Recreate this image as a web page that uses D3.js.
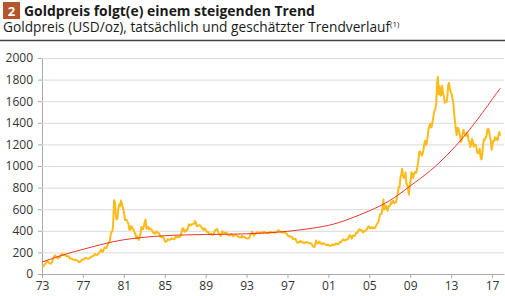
<!DOCTYPE html>
<html>
<head>
<meta charset="utf-8">
<script src="https://cdn.jsdelivr.net/npm/d3@7"></script>
<style>
  body { margin: 0; background: #fff; }
  svg { display: block; font-family: 'Open Sans', sans-serif; }
</style>
</head>
<body>
<svg></svg>
<script>
// monthly gold price (USD/oz), Jan of first year onward
const gold1970s = [
  65, 74, 84, 90, 102, 120, 120, 107, 103, 100, 95, 107,
  129, 150, 168, 172, 163, 154, 143, 155, 152, 159, 182, 184,
  176, 180, 178, 170, 167, 164, 165, 163, 144, 143, 142, 139,
  132, 131, 133, 128, 127, 126, 118, 109, 114, 116, 131, 134,
  132, 136, 148, 149, 147, 141, 143, 144, 149, 158, 162, 161,
  173, 178, 184, 175, 176, 184, 189, 206, 212, 227, 206, 208,
  227, 246, 242, 239, 258, 279, 295, 301, 355, 392, 393, 455
];
const gold1980s = [
  683, 665, 554, 505, 514, 601, 644, 627, 680, 661, 624, 595,
  558, 500, 500, 496, 480, 461, 409, 410, 444, 438, 413, 410,
  384, 374, 330, 350, 334, 315, 339, 365, 436, 422, 414, 444,
  481, 505, 420, 433, 438, 413, 423, 416, 412, 394, 382, 388,
  371, 386, 394, 381, 378, 378, 348, 348, 341, 340, 341, 320,
  298, 299, 304, 324, 317, 316, 317, 330, 324, 326, 325, 322,
  345, 339, 346, 340, 343, 343, 349, 376, 418, 423, 398, 391,
  408, 401, 409, 438, 460, 450, 451, 461, 460, 465, 468, 490,
  477, 442, 444, 452, 451, 452, 438, 431, 414, 407, 421, 419,
  404, 388, 390, 384, 371, 368, 375, 365, 362, 367, 394, 409
];
const gold1990s = [
  410, 417, 393, 374, 369, 352, 363, 395, 389, 381, 381, 378,
  384, 364, 363, 358, 357, 367, 368, 356, 349, 359, 360, 361,
  355, 354, 344, 339, 337, 341, 353, 340, 345, 344, 335, 335,
  329, 329, 330, 342, 367, 372, 392, 380, 355, 364, 374, 383,
  387, 382, 384, 377, 381, 386, 386, 380, 392, 390, 384, 379,
  379, 377, 382, 391, 385, 388, 386, 384, 383, 383, 386, 387,
  400, 405, 396, 393, 392, 385, 384, 388, 383, 381, 378, 369,
  355, 347, 352, 345, 344, 341, 324, 324, 323, 325, 306, 289,
  289, 298, 296, 308, 299, 292, 293, 284, 289, 296, 294, 292,
  287, 287, 286, 283, 276, 261, 253, 250, 265, 311, 293, 283
];
const gold2000s = [
  285, 301, 286, 280, 275, 286, 282, 275, 274, 270, 266, 272,
  266, 262, 263, 261, 272, 270, 268, 272, 283, 283, 276, 276,
  282, 296, 294, 303, 315, 321, 313, 310, 319, 317, 319, 333,
  357, 359, 341, 328, 356, 356, 351, 360, 379, 379, 390, 408,
  414, 405, 407, 403, 384, 392, 398, 401, 405, 421, 439, 442,
  424, 423, 434, 429, 422, 431, 425, 438, 456, 470, 477, 510,
  550, 555, 557, 611, 690, 596, 634, 633, 598, 586, 628, 630,
  631, 665, 655, 679, 667, 656, 665, 665, 713, 755, 806, 803,
  890, 922, 975, 910, 889, 890, 940, 839, 830, 790, 735, 816,
  859, 943, 924, 890, 929, 946, 934, 949, 997, 1043, 1127, 1135
];
const gold2010s = [
  1118, 1095, 1113, 1149, 1205, 1233, 1193, 1216, 1271, 1342, 1370, 1391,
  1356, 1373, 1424, 1474, 1510, 1529, 1573, 1760, 1825, 1665, 1739, 1652,
  1656, 1742, 1674, 1650, 1586, 1597, 1594, 1630, 1745, 1770, 1722, 1685,
  1672, 1628, 1593, 1488, 1414, 1343, 1286, 1352, 1349, 1317, 1276, 1222,
  1244, 1300, 1336, 1299, 1289, 1279, 1311, 1295, 1237, 1223, 1175, 1201,
  1252, 1227, 1179, 1199, 1199, 1182, 1128, 1118, 1125, 1159, 1086, 1060,
  1098, 1200, 1245, 1242, 1261, 1276, 1337, 1345, 1327, 1267, 1238, 1151,
  1192, 1234, 1231, 1267, 1246, 1260, 1237, 1283, 1314, 1280
];
const goldStartYear = 1973;

// estimated trend
const trendYears = [1973, 1975, 1977, 1979, 1981, 1983, 1985, 1987, 1989, 1991, 1993, 1995,
  1997, 1999, 2001, 2003, 2005, 2007, 2009, 2011, 2013, 2015, 2017, 2017.8];
const trendValues = [110, 175, 228, 278, 317, 340, 355, 362, 366, 368, 372, 381,
  395, 418, 450, 508, 585, 680, 815, 960, 1140, 1360, 1615, 1720];

const yTicks = [0, 200, 400, 600, 800, 1000, 1200, 1400, 1600, 1800, 2000];
const xTicks = [1973, 1977, 1981, 1985, 1989, 1993, 1997, 2001, 2005, 2009, 2013, 2017];

const width = 505;
const height = 296;

const goldMonthly = [].concat(gold1970s, gold1980s, gold1990s, gold2000s, gold2010s);
const goldData = goldMonthly.map((v, i) => ({ year: goldStartYear + (i + 0.5) / 12, value: v }));
const trendData = trendYears.map((y, i) => ({ year: y, value: trendValues[i] }));

const xScale = d3.scaleLinear()
                 .domain([1973, 2018.17])
                 .range([42, 504]);

const yScale = d3.scaleLinear()
                 .domain([0, 2000])
                 .range([274, 58]);

const svg = d3.select('svg')
              .attr('width', width)
              .attr('height', height);

// header
svg
  .append('rect')
    .attr('x', 3)
    .attr('y', 2)
    .attr('width', 17)
    .attr('height', 17)
    .attr('fill', '#b5552b');

svg
  .append('text')
    .text('2')
    .attr('x', 11.5)
    .attr('y', 15.5)
    .attr('fill', '#fff')
    .style('font-weight', 'bold')
    .style('font-size', '13px')
    .style('text-anchor', 'middle');

svg
  .append('text')
    .text('Goldpreis folgt(e) einem steigenden Trend')
    .attr('x', 24)
    .attr('y', 15.5)
    .attr('fill', '#1a1a1a')
    .style('font-weight', 'bold')
    .style('font-size', '13.9px');

const sub = svg
  .append('text')
    .attr('x', 3)
    .attr('y', 32)
    .attr('fill', '#1a1a1a')
    .style('font-size', '13.7px');
sub.append('tspan').text('Goldpreis (USD/oz), tatsächlich und geschätzter Trendverlauf');
sub.append('tspan').text('(1)').attr('dy', -5).style('font-size', '8px');

svg
  .append('line')
    .attr('x1', 0)
    .attr('x2', width)
    .attr('y1', 40.5)
    .attr('y2', 40.5)
    .attr('stroke', '#444')
    .attr('stroke-width', 1.5);

// grid + y axis
const yAxis = d3.axisLeft(yScale)
                .tickValues(yTicks)
                .tickFormat(d3.format('d'))
                .tickSize(4)
                .tickPadding(5)
                .tickSizeOuter(0);

const yG = svg
  .append('g')
    .attr('transform', 'translate(42, 0)')
    .call(yAxis);
yG.select('.domain').attr('stroke', '#aaa');
yG.selectAll('.tick line').attr('stroke', '#aaa');
yG.selectAll('.tick text')
  .attr('fill', '#333')
  .style('font-size', '12px')
  .style('font-family', "'Open Sans', sans-serif");

svg
  .append('g')
  .selectAll('line')
  .data(yTicks.filter((d) => d > 0))
  .enter()
  .append('line')
    .attr('x1', 42)
    .attr('x2', 504)
    .attr('y1', (d) => yScale(d) + 0.5)
    .attr('y2', (d) => yScale(d) + 0.5)
    .attr('stroke', '#dadada');

const xAxis = d3.axisBottom(xScale)
                .tickValues(xTicks)
                .tickFormat((d) => String(d % 100).padStart(2, '0'))
                .tickSize(4)
                .tickPadding(3)
                .tickSizeOuter(0);

const xG = svg
  .append('g')
    .attr('transform', 'translate(0, 274)')
    .call(xAxis);
xG.select('.domain').attr('stroke', '#aaa');
xG.selectAll('.tick line').attr('stroke', '#aaa');
xG.selectAll('.tick text')
  .attr('fill', '#333')
  .style('font-size', '12px')
  .style('font-family', "'Open Sans', sans-serif");

// series
const goldLine = d3.line()
                   .x((d) => xScale(d.year))
                   .y((d) => yScale(d.value));

const trendLine = d3.line()
                    .x((d) => xScale(d.year))
                    .y((d) => yScale(d.value))
                    .curve(d3.curveNatural);

svg
  .append('path')
    .datum(goldData)
    .attr('d', goldLine)
    .attr('fill', 'none')
    .attr('stroke', '#fbbb1a')
    .attr('stroke-width', 2)
    .attr('stroke-linejoin', 'round');

svg
  .append('path')
    .datum(trendData)
    .attr('d', trendLine)
    .attr('fill', 'none')
    .attr('stroke', '#e8352e')
    .attr('stroke-width', 1);
</script>
</body>
</html>
